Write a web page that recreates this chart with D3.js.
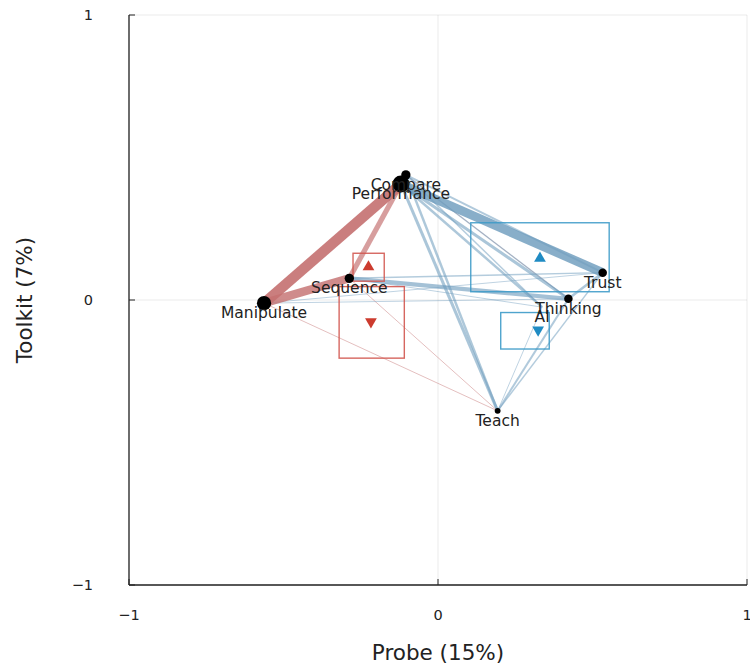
<!DOCTYPE html>
<html><head><meta charset="utf-8">
<script src="https://cdn.jsdelivr.net/npm/d3@7"></script>
<style>body{margin:0;background:#fff}svg{display:block}text{font-family:"DejaVu Sans",sans-serif}</style>
</head><body><svg id="c" width="750" height="665"></svg>
<script>
// ---- data ----
const nodeNames = ["Compare","Performance","Manipulate","Sequence","Trust","Thinking","AI","Teach"];
const nodeX = [-0.104,-0.120,-0.563,-0.287,0.533,0.422,0.337,0.193];
const nodeY = [0.439,0.407,-0.011,0.076,0.096,0.004,-0.025,-0.389];
const nodeWeight = [3,10,7,3,2.5,2.5,0,1.2];
// edges: source, target, weight, sign (-1 red, +1 blue)
const edgeSource = ["Manipulate","Manipulate","Sequence","Manipulate","Sequence","Compare",
  "Performance","Compare","Sequence","Sequence","Performance","Compare","Performance","Performance","Compare",
  "Trust","Thinking","AI","Trust","Manipulate","Manipulate","Sequence","Compare"];
const edgeTarget = ["Performance","Sequence","Performance","Teach","Teach","Thinking",
  "Trust","Trust","Thinking","Trust","Teach","Teach","Thinking","AI","AI",
  "Teach","Teach","Teach","Thinking","Thinking","Trust","AI","Thinking"];
const edgeWeight = [10,8,5,1,1,1,
  8.5,2,4,1.5,3,2.5,3,2.5,1.5,
  1.5,2,1,2.5,1,1,1,1.5];
const edgeSign = [-1,-1,-1,-1,-1,-1,
  1,1,1,1,1,1,1,1,1,
  1,1,1,1,1,1,1,1];
// group boxes: [xmin,xmax,ymin,ymax], marker centre, direction, group
const boxX0 = [-0.275,-0.320,0.106,0.203];
const boxX1 = [-0.174,-0.109,0.554,0.360];
const boxY0 = [0.066,-0.204,0.029,-0.172];
const boxY1 = [0.164,0.047,0.271,-0.044];
const markX = [-0.225,-0.217,0.330,0.324];
const markY = [0.116,-0.076,0.146,-0.105];
const markDir = ["up","down","up","down"];
const boxGroup = ["red","red","blue","blue"];
const xTicks = [-1,0,1], yTicks = [-1,0,1];
const xTitle = "Probe (15%)", yTitle = "Toolkit (7%)";

// ---- chart ----
const svg = d3.select("#c");
const x = d3.scaleLinear().domain([-1,1]).range([129,747]);
const y = d3.scaleLinear().domain([-1,1]).range([585,15]);
const fmt = d => d < 0 ? "\u2212" + Math.abs(d) : String(d);

// grid
svg.append("g").selectAll("line").data(xTicks).join("line")
  .attr("x1",d=>x(d)).attr("x2",d=>x(d)).attr("y1",15).attr("y2",585)
  .attr("stroke","#000").attr("stroke-opacity",0.08).attr("stroke-width",1);
svg.append("g").selectAll("line").data(yTicks).join("line")
  .attr("y1",d=>y(d)).attr("y2",d=>y(d)).attr("x1",129).attr("x2",747)
  .attr("stroke","#000").attr("stroke-opacity",0.08).attr("stroke-width",1);

const pos = {};
nodeNames.forEach((n,i)=>pos[n]=[x(nodeX[i]),y(nodeY[i])]);

const edges = edgeSource.map((s,i)=>({s,t:edgeTarget[i],w:edgeWeight[i],sign:edgeSign[i]}));
edges.sort((a,b)=>a.w-b.w);
const wScale = d3.scaleLinear().domain([1,10]).range([0.9,10.5]);
const oScale = d3.scaleLinear().domain([1,10]).range([0.5,0.9]);
svg.append("g").selectAll("line").data(edges).join("line")
  .attr("x1",d=>pos[d.s][0]).attr("y1",d=>pos[d.s][1])
  .attr("x2",d=>pos[d.t][0]).attr("y2",d=>pos[d.t][1])
  .attr("stroke",d=>d.sign<0?"rgb(196,112,112)":"rgb(112,158,190)")
  .attr("stroke-opacity",d=>oScale(d.w))
  .attr("stroke-width",d=>wScale(d.w));

// boxes
const colBox = {red:"#d2574f", blue:"#3c9ac8"};
const colMark = {red:"#cc3b2e", blue:"#1f8bc3"};
const boxes = boxX0.map((v,i)=>({x0:v,x1:boxX1[i],y0:boxY0[i],y1:boxY1[i],mx:markX[i],my:markY[i],dir:markDir[i],g:boxGroup[i]}));
svg.append("g").selectAll("rect").data(boxes).join("rect")
  .attr("x",d=>x(d.x0)).attr("y",d=>y(d.y1))
  .attr("width",d=>x(d.x1)-x(d.x0)).attr("height",d=>y(d.y0)-y(d.y1))
  .attr("fill","none").attr("stroke",d=>colBox[d.g]).attr("stroke-width",1.4).attr("stroke-opacity",0.9);
svg.append("g").selectAll("path").data(boxes).join("path")
  .attr("transform",d=>`translate(${x(d.mx)},${y(d.my)}) rotate(${d.dir==="up"?0:180})`)
  .attr("d",d3.symbol(d3.symbolTriangle,60))
  .attr("fill",d=>colMark[d.g]);

// nodes
const rScale = d3.scaleSqrt().domain([0,10]).range([0,8.5]);
const nodes = nodeNames.map((n,i)=>({n,x:nodeX[i],y:nodeY[i],w:nodeWeight[i]}));
svg.append("g").selectAll("circle").data(nodes.filter(d=>d.w>0)).join("circle")
  .attr("cx",d=>x(d.x)).attr("cy",d=>y(d.y)).attr("r",d=>Math.max(2.5,rScale(d.w)))
  .attr("fill","#000");
svg.append("g").selectAll("text").data(nodes).join("text")
  .attr("x",d=>x(d.x)).attr("y",d=>y(d.y)+10)
  .attr("text-anchor","middle").attr("dominant-baseline","central")
  .attr("font-size",15.5).attr("fill","#222").text(d=>d.n);

// axes spines
svg.append("line").attr("x1",129).attr("x2",129).attr("y1",15).attr("y2",585).attr("stroke","#222").attr("stroke-width",1.3);
svg.append("line").attr("x1",129).attr("x2",747).attr("y1",585).attr("y2",585).attr("stroke","#222").attr("stroke-width",1.3);
svg.append("g").selectAll("line").data(xTicks).join("line")
  .attr("x1",d=>x(d)).attr("x2",d=>x(d)).attr("y1",585).attr("y2",579).attr("stroke","#222").attr("stroke-width",1);
svg.append("g").selectAll("line").data(yTicks).join("line")
  .attr("y1",d=>y(d)).attr("y2",d=>y(d)).attr("x1",129).attr("x2",135).attr("stroke","#222").attr("stroke-width",1);
svg.append("g").selectAll("text").data(xTicks).join("text")
  .attr("x",d=>x(d)).attr("y",615).attr("text-anchor","middle").attr("dominant-baseline","central")
  .attr("font-size",14.5).attr("fill","#222").text(fmt);
svg.append("g").selectAll("text").data(yTicks).join("text")
  .attr("x",93).attr("y",d=>y(d)).attr("text-anchor","end").attr("dominant-baseline","central")
  .attr("font-size",14.5).attr("fill","#222").text(fmt);
svg.append("text").attr("x",438).attr("y",652).attr("text-anchor","middle").attr("dominant-baseline","central")
  .attr("font-size",21.5).attr("fill","#222").text(xTitle);
svg.append("text").attr("transform","translate(24,300) rotate(-90)").attr("text-anchor","middle").attr("dominant-baseline","central")
  .attr("font-size",21.5).attr("fill","#222").text(yTitle);
</script></body></html>
